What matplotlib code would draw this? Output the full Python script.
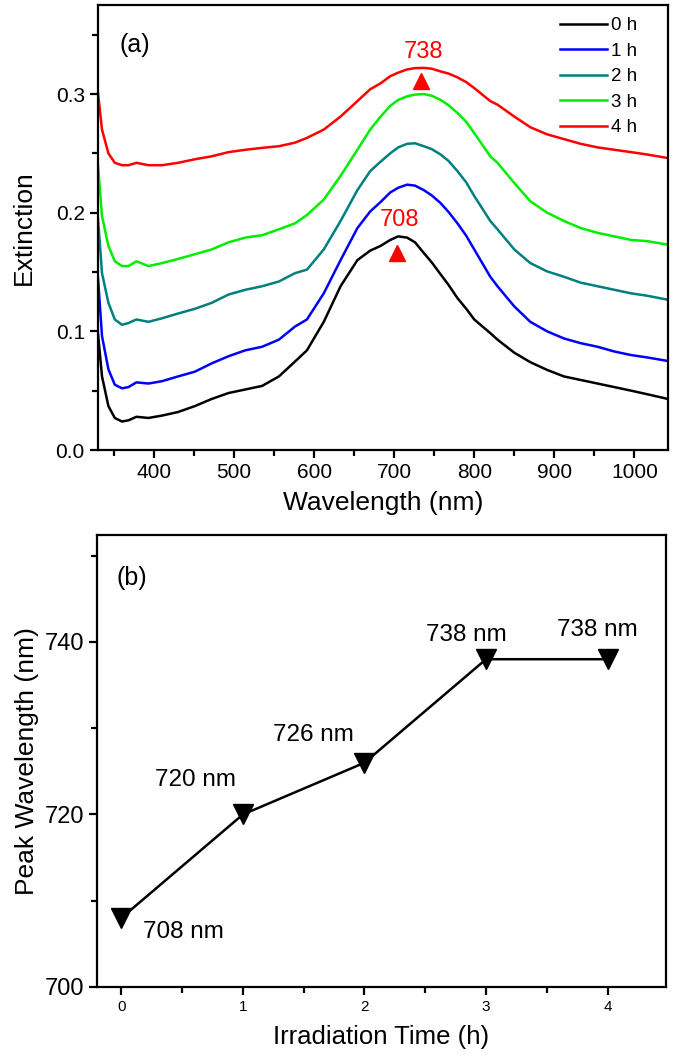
import matplotlib
matplotlib.use("Agg")
import matplotlib.pyplot as plt
from matplotlib.ticker import MultipleLocator, FormatStrFormatter

plt.rcParams["font.family"] = ["Liberation Sans", "DejaVu Sans"]

# ---- panel (a): extinction spectra ----
wavelength = [330, 335, 343, 351, 360, 368, 378, 393, 410, 430, 451, 472, 493,
              514, 535, 556, 576, 591, 612, 633, 654, 670, 683, 695, 705, 716,
              726, 737, 747, 758, 768, 779, 790, 800, 820, 829, 850, 870, 891,
              912, 933, 954, 975, 996, 1016, 1042]
ext_0h = [0.098, 0.062, 0.037, 0.027, 0.024, 0.025, 0.028, 0.027, 0.029, 0.032,
          0.037, 0.043, 0.048, 0.051, 0.054, 0.062, 0.0745, 0.084, 0.108, 0.138,
          0.160, 0.168, 0.172, 0.177, 0.180, 0.179, 0.175, 0.166, 0.158, 0.148,
          0.139, 0.128, 0.119, 0.110, 0.0985, 0.093, 0.082, 0.074, 0.0675, 0.062,
          0.059, 0.056, 0.053, 0.050, 0.047, 0.043]
ext_1h = [0.145, 0.096, 0.068, 0.055, 0.052, 0.053, 0.057, 0.056, 0.058, 0.062,
          0.066, 0.073, 0.079, 0.084, 0.087, 0.093, 0.104, 0.110, 0.132, 0.160,
          0.187, 0.201, 0.209, 0.217, 0.221, 0.2236, 0.2228, 0.219, 0.2145, 0.208,
          0.2005, 0.191, 0.1805, 0.169, 0.146, 0.138, 0.121, 0.108, 0.100, 0.094,
          0.090, 0.087, 0.083, 0.080, 0.078, 0.075]
ext_2h = [0.195, 0.149, 0.124, 0.110, 0.1055, 0.107, 0.110, 0.108, 0.111, 0.115,
          0.119, 0.124, 0.131, 0.135, 0.138, 0.142, 0.149, 0.152, 0.169, 0.193,
          0.219, 0.235, 0.243, 0.250, 0.255, 0.258, 0.2585, 0.256, 0.2535, 0.249,
          0.2435, 0.235, 0.2255, 0.214, 0.193, 0.186, 0.169, 0.1575, 0.1505, 0.146,
          0.141, 0.138, 0.135, 0.132, 0.130, 0.1266]
ext_3h = [0.240, 0.197, 0.172, 0.159, 0.155, 0.155, 0.159, 0.155, 0.1575, 0.161,
          0.165, 0.169, 0.175, 0.179, 0.181, 0.186, 0.191, 0.198, 0.211, 0.231,
          0.253, 0.270, 0.281, 0.290, 0.295, 0.298, 0.2995, 0.300, 0.2985, 0.295,
          0.2905, 0.284, 0.2765, 0.267, 0.2475, 0.242, 0.225, 0.2096, 0.200, 0.193,
          0.187, 0.183, 0.180, 0.177, 0.176, 0.173]
ext_4h = [0.301, 0.270, 0.250, 0.242, 0.240, 0.240, 0.242, 0.240, 0.240, 0.242,
          0.245, 0.2475, 0.251, 0.253, 0.2546, 0.256, 0.259, 0.263, 0.270, 0.281,
          0.294, 0.304, 0.309, 0.315, 0.318, 0.3207, 0.3218, 0.322, 0.3213, 0.319,
          0.3172, 0.314, 0.310, 0.305, 0.294, 0.291, 0.281, 0.272, 0.266, 0.262,
          0.258, 0.255, 0.253, 0.251, 0.249, 0.246]
series_labels = ["0 h", "1 h", "2 h", "3 h", "4 h"]
series_colors = ["#000000", "#0000FF", "#007F7F", "#00EE00", "#FF0000"]

# peak markers in (a)
peak_wl = [704, 733]
peak_ext = [0.166, 0.311]
peak_text = ["708", "738"]
peak_text_ext = [0.194, 0.335]

# ---- panel (b): peak position vs time ----
time_h = [0, 1, 2, 3, 4]
peak_nm = [708, 720, 726, 738, 738]
note_x = [0.18, 0.28, 1.25, 2.51, 3.58]
note_y = [706.4, 724.0, 729.2, 740.8, 741.4]

W, H = 675, 1056
fig = plt.figure(figsize=(W / 100, H / 100), dpi=100)


def style_axes(ax):
    for s in ax.spines.values():
        s.set_linewidth(1.6)
    ax.tick_params(which="major", direction="out", length=6, width=1.6,
                   top=False, right=False)
    ax.tick_params(which="minor", direction="out", length=4, width=1.6,
                   top=False, right=False)


# (a)
ax1 = fig.add_axes([98 / W, 1 - 450 / H, 570 / W, 445 / H])
series = [ext_0h, ext_1h, ext_2h, ext_3h, ext_4h]
for ys, lab, col in zip(series, series_labels, series_colors):
    ax1.plot(wavelength, ys, color=col, lw=1.8, label=lab)
ax1.plot(peak_wl, peak_ext, linestyle="none", marker="^", ms=11, color="#FF0000")
for x, y, t in zip(peak_wl, peak_text_ext, peak_text):
    ax1.text(x + 3, y, t, color="#FF0000", fontsize=17, ha="center", va="center")
ax1.set_xlim(330, 1042)
ax1.set_ylim(0, 0.375)
ax1.xaxis.set_major_locator(MultipleLocator(100))
ax1.xaxis.set_minor_locator(MultipleLocator(50))
ax1.yaxis.set_major_locator(MultipleLocator(0.1))
ax1.yaxis.set_minor_locator(MultipleLocator(0.05))
ax1.yaxis.set_major_formatter(FormatStrFormatter("%.1f"))
style_axes(ax1)
ax1.tick_params(labelsize=15)
ax1.set_xlabel("Wavelength (nm)", fontsize=19, labelpad=6)
ax1.set_ylabel("Extinction", fontsize=19, labelpad=14)
ax1.text(0.065, 0.909, "(a)", transform=ax1.transAxes, fontsize=18,
         ha="center", va="center")
ax1.legend(loc="upper right", bbox_to_anchor=(0.946, 0.973), frameon=False,
           fontsize=13.5, handlelength=2.5, handletextpad=0.2,
           labelspacing=0.45, borderpad=0, borderaxespad=0)

# (b)
ax2 = fig.add_axes([97 / W, 1 - 987 / H, 569 / W, 452 / H])
ax2.plot(time_h, peak_nm, color="black", lw=1.8, marker="v", ms=14)
for x, y, v in zip(note_x, note_y, peak_nm):
    ax2.text(x, y, f"{v} nm", fontsize=17.5, ha="left", va="center")
ax2.set_xlim(-0.2, 4.48)
ax2.set_ylim(700, 752.4)
ax2.xaxis.set_major_locator(MultipleLocator(1))
ax2.xaxis.set_minor_locator(MultipleLocator(0.5))
ax2.yaxis.set_major_locator(MultipleLocator(20))
ax2.yaxis.set_minor_locator(MultipleLocator(10))
style_axes(ax2)
ax2.tick_params(axis="y", labelsize=17)
ax2.tick_params(axis="x", labelsize=11)
ax2.set_xlabel("Irradiation Time (h)", fontsize=18.5, labelpad=8)
ax2.set_ylabel("Peak Wavelength (nm)", fontsize=19, labelpad=4)
ax2.text(0.0615, 0.905, "(b)", transform=ax2.transAxes, fontsize=18,
         ha="center", va="center")

fig.savefig("out.png", dpi=100)
